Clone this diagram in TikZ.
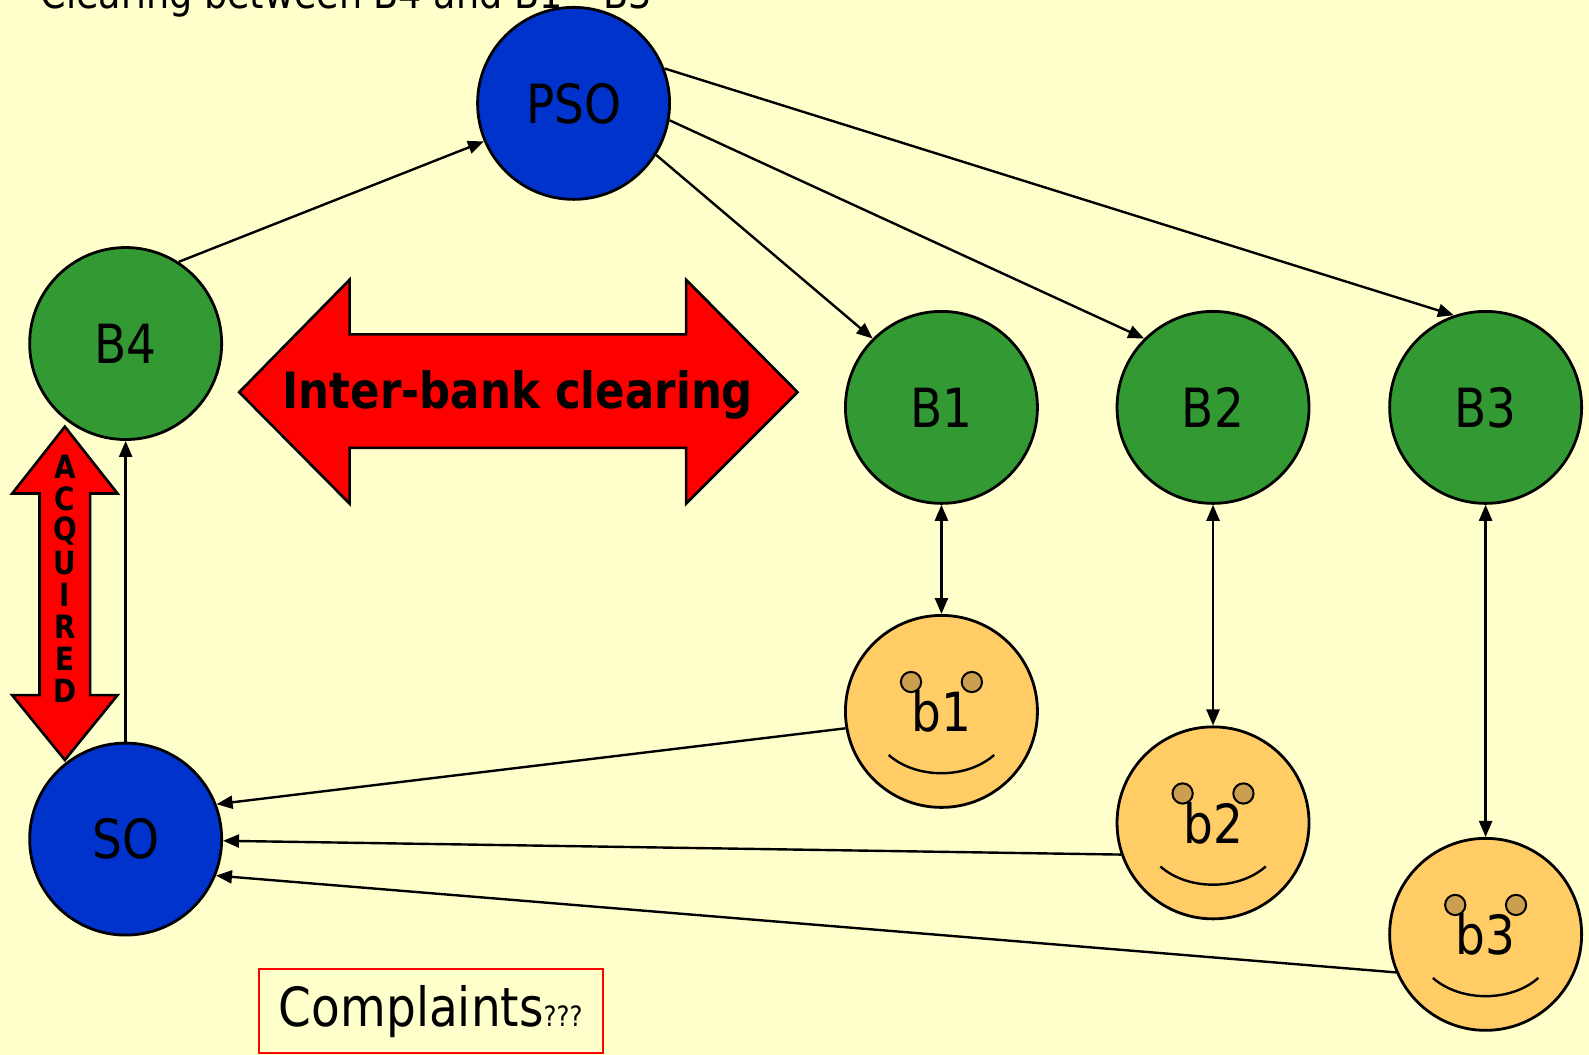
\documentclass[tikz,border=0pt]{standalone}
\usepackage{fontspec}
\setmainfont[FakeStretch=0.87]{DejaVu Sans}
\usepackage{tikz}
\usetikzlibrary{arrows.meta}
\tikzstyle{slide} = [x = 0.5067pt, y = -0.5067pt]
\definecolor{slideBackground}{HTML}{FFFFCC}
\definecolor{officeBlue}{HTML}{0033CC}
\definecolor{bankGreen}{HTML}{339933}
\definecolor{faceColor}{HTML}{FFCC66}
\definecolor{eyeColor}{HTML}{CC9F50}
\tikzstyle{bigCircle} = [circle, draw=black, line width=1.4pt, minimum size=96pt, inner sep=0pt, font=\fontsize{27}{32}\selectfont]
\tikzstyle{officeStyle} = [bigCircle, fill=officeBlue]
\tikzstyle{bankStyle} = [bigCircle, fill=bankGreen]
\tikzstyle{clientStyle} = [bigCircle, fill=faceColor]
\tikzstyle{clientText} = [font=\fontsize{27}{32}\selectfont, inner sep=0pt]
\tikzstyle{flowArrow} = [-{Triangle[length=8pt, width=6.5pt]}, line width=1.2pt]
\tikzstyle{bothArrow} = [{Triangle[length=8pt, width=6.5pt]}-{Triangle[length=8pt, width=6.5pt]}, line width=1.2pt]
\tikzstyle{redArrow} = [fill=red, draw=black, line width=1.3pt, line join=miter]
\tikzstyle{redArrowText} = [font=\bfseries\fontsize{25}{30}\selectfont]
\tikzstyle{acquiredLetter} = [font=\bfseries\fontsize{16}{19}\selectfont, inner sep=0pt]
\tikzstyle{eyeStyle} = [fill=eyeColor, draw=black, line width=1pt]
\tikzstyle{smileStyle} = [draw=black, line width=1.2pt]
\tikzstyle{complaintBox} = [draw=red, line width=1.1pt, minimum width=172pt, minimum height=42pt, font=\fontsize{27}{32}\selectfont]
\newcommand{\smileyFace}[1]{
  \begin{scope}[shift={(#1.center)}]
    \filldraw [eyeStyle] (-30,-29) circle [radius=10];
    \filldraw [eyeStyle] (30,-29) circle [radius=10];
    \draw [smileStyle] (-52,43) .. controls (-25,67) and (25,67) .. (52,43);
  \end{scope}
}

\begin{document}
\begin{tikzpicture}[slide]
  \useasboundingbox (0,0) rectangle (1568,1041);
  \clip (0,0) rectangle (1568,1041);
  \fill [slideBackground] (0,0) rectangle (1568,1041);
  \node [anchor=base west, font=\fontsize{21}{25}\selectfont] (title) at (33,8) {Clearing between B4 and B1 -- B3};

  % offices and banks
  \node [officeStyle] (pso) at (566,102) {PSO};
  \node [officeStyle] (so) at (124,828) {SO};
  \node [bankStyle] (bank4) at (124,339) {B4};
  \node [bankStyle] (bank1) at (929,402) {B1};
  \node [bankStyle] (bank2) at (1197,402) {B2};
  \node [bankStyle] (bank3) at (1466,402) {B3};

  % customers
  \foreach \idx/\xpos/\ypos in {1/929/702, 2/1197/812, 3/1466/922} {
    \node [clientStyle] (client\idx) at (\xpos,\ypos) {};
    \smileyFace{client\idx}
    \node [clientText] (clientLabel\idx) at (client\idx) {b\idx};
    \draw [bothArrow] (bank\idx) -- (client\idx);
  }

  \draw [flowArrow] (bank4.57) -- (pso.-157);
  \draw [flowArrow] (pso.-32) -- (bank1.135);
  \draw [flowArrow] (pso.-10) -- (bank2.135);
  \draw [flowArrow] (pso.21) -- (bank3.109);
  \draw [flowArrow] (so) -- (bank4);
  \draw [flowArrow] (client1.190) -- (so.21);
  \draw [flowArrow] (client2.199) -- (so.-1);
  \draw [flowArrow] (client3.203) -- (so.-22);

  % red arrows
  \filldraw [redArrow] (236,387) -- (345,276) -- (345,330) -- (677,330) -- (677,276) -- (787,387) -- (677,497) -- (677,442) -- (345,442) -- (345,497) -- cycle;
  \node [redArrowText] (interBank) at (511,390) {Inter-bank clearing};
  \filldraw [redArrow] (64,421) -- (116,487) -- (89,487) -- (89,686) -- (116,686) -- (64,750) -- (12,686) -- (39,686) -- (39,487) -- (12,487) -- cycle;
  \foreach \letter [count=\n] in {A,C,Q,U,I,R,E,D}
    \node [acquiredLetter] (acquired\n) at (64, 429.4 + 31.6*\n) {\letter};

  \node [complaintBox] (complaints) at (425,998) {Complaints{\fontsize{14}{16}\selectfont ???}};
\end{tikzpicture}
\end{document}
